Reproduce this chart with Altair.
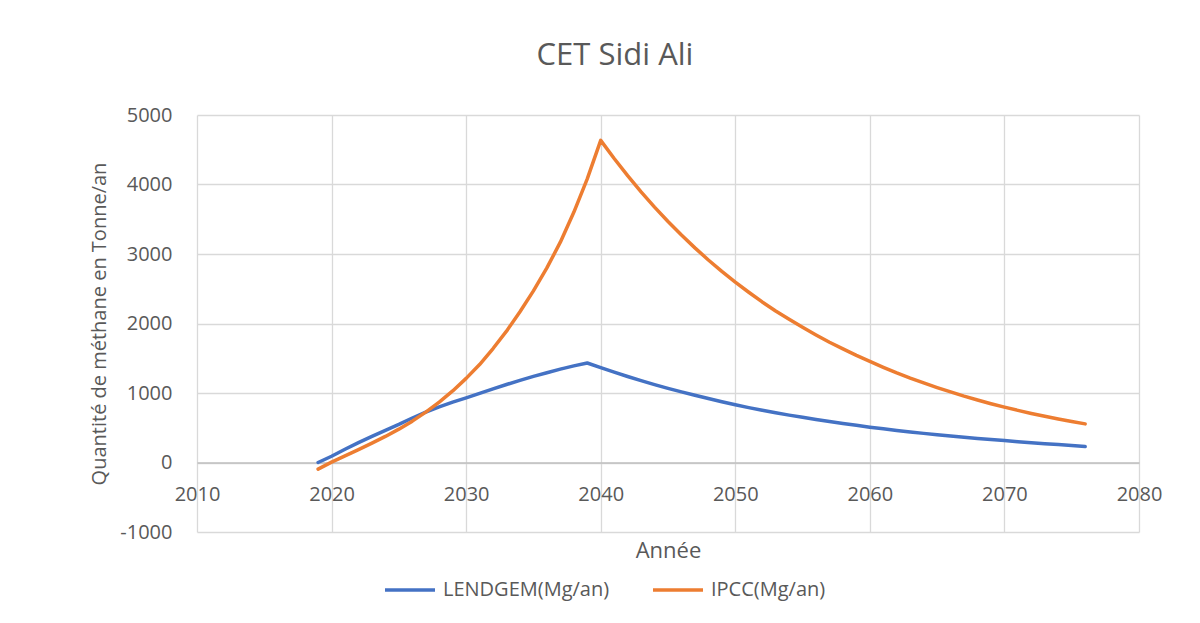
import altair as alt
import pandas as pd

years = list(range(2019, 2077))

lendgem = [
    0, 90, 190, 285, 375, 462, 548, 640, 725, 800,
    868, 930, 995, 1060, 1122, 1182, 1240, 1292, 1343, 1390,
    1432, 1365, 1300, 1238, 1178, 1121, 1067, 1016, 967, 920,
    874, 830, 790, 752, 716, 682, 650, 619, 590, 562,
    535, 508, 485, 462, 440, 419, 400, 381, 363, 346,
    330, 315, 300, 285, 271, 258, 243, 230,
]

ipcc = [
    -95, 5, 95, 185, 278, 375, 480, 595, 725, 870,
    1030, 1210, 1410, 1640, 1890, 2170, 2470, 2800, 3170, 3600,
    4080, 4635, 4374, 4127, 3894, 3675, 3468, 3272, 3088, 2914,
    2750, 2595, 2450, 2310, 2180, 2060, 1945, 1835, 1730, 1635,
    1542, 1455, 1370, 1290, 1215, 1145, 1078, 1015, 955, 900,
    846, 796, 750, 706, 665, 627, 590, 556,
]

series_names = ["LENDGEM(Mg/an)", "IPCC(Mg/an)"]
series_colors = ["#4472C4", "#ED7D31"]

x_ticks = [2010, 2020, 2030, 2040, 2050, 2060, 2070, 2080]
y_ticks = [-1000, 0, 1000, 2000, 3000, 4000, 5000]

rows = []
for y, v in zip(years, lendgem):
    rows.append({"year": y, "value": v, "series": series_names[0]})
for y, v in zip(years, ipcc):
    rows.append({"year": y, "value": v, "series": series_names[1]})
df = pd.DataFrame(rows)

FONT = "Open Sans"
TXT = "#595959"

chart = (
    alt.Chart(df)
    .mark_line(strokeWidth=3.5, interpolate="linear", strokeJoin="round", strokeCap="round")
    .encode(
        x=alt.X(
            "year:Q",
            scale=alt.Scale(domain=[2010, 2080], nice=False, zero=False),
            axis=alt.Axis(
                title="Année",
                values=x_ticks,
                labelExpr="'' + datum.value",
                labelFlush=False,
                labelOverlap=False,
                offset=-69.5,
                grid=True,
                gridColor="#D9D9D9",
                gridWidth=1.3,
                domain=True,
                domainColor="#BFBFBF",
                domainWidth=1.5,
                ticks=False,
                labelPadding=22,
                labelFontSize=20,
                labelColor=TXT,
                labelFont=FONT,
                titleFont=FONT,
                titleFontSize=22,
                titleFontWeight="normal",
                titleColor=TXT,
                titlePadding=36,
            ),
        ),
        y=alt.Y(
            "value:Q",
            scale=alt.Scale(domain=[-1000, 5000], nice=False),
            axis=alt.Axis(
                title="Quantité de méthane en Tonne/an",
                values=y_ticks,
                labelExpr="'' + datum.value",
                labelFlush=False,
                labelOverlap=False,
                grid=True,
                gridColor="#D9D9D9",
                gridWidth=1.3,
                domain=False,
                ticks=False,
                labelPadding=25,
                labelFontSize=20,
                labelColor=TXT,
                labelFont=FONT,
                titleFont=FONT,
                titleFontSize=20,
                titleFontWeight="normal",
                titleColor=TXT,
                titlePadding=10,
            ),
        ),
        color=alt.Color(
            "series:N",
            scale=alt.Scale(domain=series_names, range=series_colors),
            sort=series_names,
            legend=alt.Legend(
                title=None,
                orient="none",
                legendX=186,
                legendY=465,
                direction="horizontal",
                symbolType="stroke",
                symbolSize=2500,
                symbolStrokeWidth=3.5,
                clipHeight=20,
                labelFontSize=20,
                labelFont=FONT,
                labelColor=TXT,
                labelOffset=6,
                labelLimit=400,
                columnPadding=41,
            ),
        ),
    )
    .properties(
        width=942,
        height=417,
        title=alt.TitleParams(
            "CET Sidi Ali",
            font=FONT,
            fontSize=31,
            fontWeight="normal",
            color=TXT,
            anchor="middle",
            dx=-53,
            offset=33,
        ),
        autosize=alt.AutoSizeParams(type="none"),
        padding={"left": 189, "top": 107, "right": 45, "bottom": 80},
    )
    .configure_view(stroke=None)
)

chart.save("out.html", embed_options={"renderer": "svg", "actions": False})
